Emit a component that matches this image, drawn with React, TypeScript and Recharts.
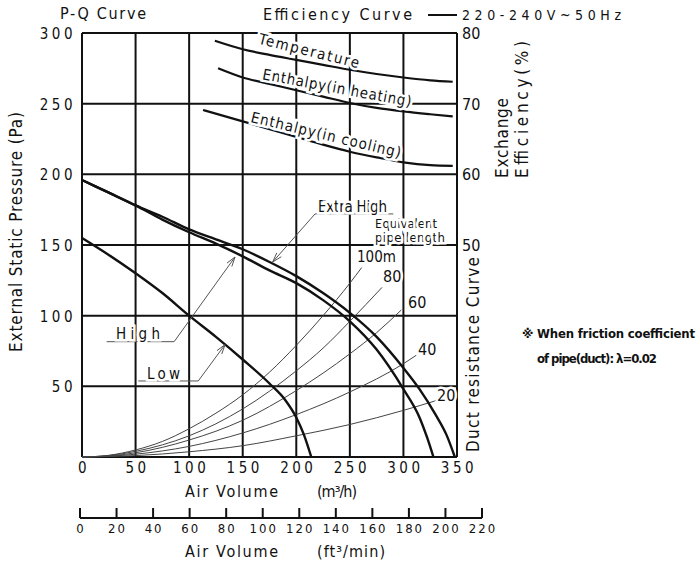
import React from "react";
import {
  LineChart,
  Line,
  XAxis,
  YAxis,
  CartesianGrid,
  ReferenceLine,
} from "recharts";

const FONT =
  "'DejaVu Sans Condensed', 'Liberation Sans Narrow', 'DejaVu Sans', sans-serif";

// axis ticks
const airTicks = [0, 50, 100, 150, 200, 250, 300, 350];
const pressureTicks = [0, 50, 100, 150, 200, 250, 300];
const effTicks = [50, 60, 70, 80];
const ftTicks = [0, 20, 40, 60, 80, 100, 120, 140, 160, 180, 200, 220];

// P-Q curves (q = m3/h, p = Pa)
const extraHigh = [
  { q: 0, p: 196 }, { q: 25, p: 187 }, { q: 50, p: 178 }, { q: 75, p: 170 },
  { q: 100, p: 161 }, { q: 125, p: 154 }, { q: 150, p: 147 }, { q: 175, p: 138 },
  { q: 200, p: 128 }, { q: 225, p: 116 }, { q: 250, p: 102 }, { q: 275, p: 85 },
  { q: 300, p: 63 }, { q: 315, p: 48 }, { q: 330, p: 30 }, { q: 340, p: 16 },
  { q: 348, p: 0 },
];
const high = [
  { q: 0, p: 196 }, { q: 25, p: 187 }, { q: 50, p: 178 }, { q: 75, p: 168 },
  { q: 100, p: 159 }, { q: 125, p: 151 }, { q: 150, p: 142 }, { q: 175, p: 132 },
  { q: 200, p: 123 }, { q: 225, p: 111 }, { q: 250, p: 96 }, { q: 275, p: 76 },
  { q: 300, p: 48 }, { q: 315, p: 28 }, { q: 322, p: 14 }, { q: 328, p: 0 },
];
const low = [
  { q: 0, p: 155 }, { q: 25, p: 143 }, { q: 50, p: 130 }, { q: 75, p: 116 },
  { q: 100, p: 100 }, { q: 125, p: 85 }, { q: 150, p: 69 }, { q: 175, p: 52 },
  { q: 190, p: 40 }, { q: 200, p: 28 }, { q: 207, p: 16 }, { q: 214, p: 0 },
];

// duct resistance curves by equivalent pipe length
const duct100 = [
  { q: 0, p: 0 }, { q: 25, p: 1.2 }, { q: 50, p: 5 }, { q: 75, p: 11 },
  { q: 100, p: 20 }, { q: 125, p: 31 }, { q: 150, p: 44 }, { q: 175, p: 60 },
  { q: 200, p: 79 }, { q: 225, p: 100 }, { q: 250, p: 123 }, { q: 261, p: 134 },
];
const duct80 = [
  { q: 0, p: 0 }, { q: 25, p: 1 }, { q: 50, p: 4 }, { q: 100, p: 15 },
  { q: 150, p: 34 }, { q: 200, p: 61 }, { q: 225, p: 77 }, { q: 250, p: 96 },
  { q: 280, p: 120 },
];
const duct60 = [
  { q: 0, p: 0 }, { q: 25, p: 0.7 }, { q: 50, p: 3 }, { q: 100, p: 12 },
  { q: 150, p: 26 }, { q: 200, p: 47 }, { q: 250, p: 73 }, { q: 275, p: 88 },
  { q: 298, p: 104 },
];
const duct40 = [
  { q: 0, p: 0 }, { q: 25, p: 0.5 }, { q: 50, p: 2 }, { q: 100, p: 7.5 },
  { q: 150, p: 17 }, { q: 200, p: 30 }, { q: 250, p: 46 }, { q: 300, p: 66 },
  { q: 312, p: 72 },
];
const duct20 = [
  { q: 0, p: 0 }, { q: 50, p: 1 }, { q: 100, p: 3.7 }, { q: 150, p: 8 },
  { q: 200, p: 15 }, { q: 250, p: 23 }, { q: 300, p: 33 }, { q: 331, p: 40 },
];

// exchange efficiency curves (e = %)
const temperature = [
  { q: 124, e: 78.9 }, { q: 150, e: 77.7 }, { q: 175, e: 76.9 }, { q: 200, e: 76.2 },
  { q: 225, e: 75.5 }, { q: 250, e: 74.8 }, { q: 275, e: 74.2 }, { q: 300, e: 73.7 },
  { q: 325, e: 73.3 }, { q: 346, e: 73.1 },
];
const enthalpyHeating = [
  { q: 127, e: 75 }, { q: 150, e: 73.7 }, { q: 175, e: 72.8 }, { q: 200, e: 71.9 },
  { q: 225, e: 71 }, { q: 250, e: 70.1 }, { q: 275, e: 69.4 }, { q: 300, e: 68.9 },
  { q: 325, e: 68.5 }, { q: 346, e: 68.2 },
];
const enthalpyCooling = [
  { q: 113, e: 69.1 }, { q: 150, e: 67.5 }, { q: 175, e: 66.4 }, { q: 200, e: 65.3 },
  { q: 225, e: 64.2 }, { q: 250, e: 63.2 }, { q: 275, e: 62.4 }, { q: 300, e: 61.7 },
  { q: 325, e: 61.3 }, { q: 346, e: 61.2 },
];

// leader lines: label underline start, bend point, arrow tip (data units)
const leaders = [
  { from: { q: 217.5, p: 172 }, to: { q: 178, p: 138 }, under: 290.5 },
  { from: { q: 86, p: 81.6 }, to: { q: 142.8, p: 141.5 }, under: 23 },
  { from: { q: 108.5, p: 53.8 }, to: { q: 133.5, p: 79.5 }, under: 52.5 },
];

const ftRows = ftTicks.map((v) => ({ ft: v, y: 0 }));

const txt = { fontFamily: FONT, fill: "#111" } as const;
const halo = { stroke: "#fff", strokeWidth: 5, paintOrder: "stroke" } as const;

const Arrow = (props: any) => {
  const { x1, y1, x2, y2 } = props;
  const a = Math.atan2(y2 - y1, x2 - x1);
  const l = 10;
  const w = 0.3;
  const p1 = [x2 - l * Math.cos(a - w), y2 - l * Math.sin(a - w)];
  const p2 = [x2 - l * Math.cos(a + w), y2 - l * Math.sin(a + w)];
  return (
    <g stroke="#555" strokeWidth={1} fill="none">
      <line x1={x1} y1={y1} x2={x2} y2={y2} />
      <polyline points={`${p1[0]},${p1[1]} ${x2},${y2} ${p2[0]},${p2[1]}`} />
    </g>
  );
};

const AirTick = ({ x, y, payload }: any) => (
  <text x={x + 2} y={y + 16} textAnchor="middle" fontSize={15} letterSpacing={3.5} style={txt}>
    {payload.value}
  </text>
);

const PressureTick = ({ x, y, payload }: any) =>
  payload.value === 0 ? null : (
    <text x={x - 6} y={y + 6} textAnchor="end" fontSize={15} letterSpacing={3.5} style={txt}>
      {payload.value}
    </text>
  );

const EffTick = ({ x, y, payload }: any) => (
  <text x={x + 5} y={y + 6} textAnchor="start" fontSize={16} style={txt}>
    {payload.value}
  </text>
);

const FtTick = ({ x, y, payload }: any) => (
  <g>
    <line x1={x} y1={y} x2={x} y2={y - 10} stroke="#111" strokeWidth={2} />
    <text x={x + 1} y={y + 15} textAnchor="middle" fontSize={13} letterSpacing={2} style={txt}>
      {payload.value}
    </text>
  </g>
);

export default function App() {
  return (
    <div style={{ position: "absolute", left: 0, top: 0, width: 697, height: 568, background: "#fff" }}>
      <div style={{ position: "absolute", left: 0, top: 0 }}>
        <LineChart width={697} height={568} margin={{ top: 33, right: 200, bottom: 81, left: 22 }}>
          <CartesianGrid xAxisId="q" yAxisId="p" stroke="#111" strokeWidth={2} />
          <XAxis
            xAxisId="q"
            dataKey="q"
            type="number"
            domain={[0, 350]}
            ticks={airTicks}
            height={30}
            axisLine={false}
            tickLine={false}
            tickSize={0}
            tickMargin={0}
            tick={<AirTick />}
            interval={0}
          />
          <YAxis
            yAxisId="p"
            type="number"
            domain={[0, 300]}
            ticks={pressureTicks}
            width={60}
            axisLine={false}
            tickLine={false}
            tickSize={0}
            tickMargin={0}
            tick={<PressureTick />}
            interval={0}
          />
          <YAxis
            yAxisId="e"
            orientation="right"
            type="number"
            domain={[20, 80]}
            ticks={effTicks}
            width={40}
            axisLine={false}
            tickLine={false}
            tickSize={0}
            tickMargin={0}
            tick={<EffTick />}
            interval={0}
          />

          {[duct100, duct80, duct60, duct40, duct20].map((d, i) => (
            <Line
              key={"duct" + i}
              xAxisId="q"
              yAxisId="p"
              data={d}
              dataKey="p"
              type="monotone"
              stroke="#444"
              strokeWidth={1}
              dot={false}
              isAnimationActive={false}
            />
          ))}

          <Line xAxisId="q" yAxisId="p" data={extraHigh} dataKey="p" type="monotone" stroke="#111" strokeWidth={2.4} dot={false} isAnimationActive={false} />
          <Line xAxisId="q" yAxisId="p" data={high} dataKey="p" type="monotone" stroke="#111" strokeWidth={2.4} dot={false} isAnimationActive={false} />
          <Line xAxisId="q" yAxisId="p" data={low} dataKey="p" type="monotone" stroke="#111" strokeWidth={2.4} dot={false} isAnimationActive={false} />

          <Line xAxisId="q" yAxisId="e" data={temperature} dataKey="e" type="monotone" stroke="#111" strokeWidth={2.2} dot={false} isAnimationActive={false} />
          <Line xAxisId="q" yAxisId="e" data={enthalpyHeating} dataKey="e" type="monotone" stroke="#111" strokeWidth={2.2} dot={false} isAnimationActive={false} />
          <Line xAxisId="q" yAxisId="e" data={enthalpyCooling} dataKey="e" type="monotone" stroke="#111" strokeWidth={2.2} dot={false} isAnimationActive={false} />

          {leaders.map((l, i) => (
            <ReferenceLine
              key={"u" + i}
              xAxisId="q"
              yAxisId="p"
              segment={[{ x: l.under, y: l.from.p }, { x: l.from.q, y: l.from.p }]}
              stroke="#555"
              strokeWidth={1}
            />
          ))}
          {leaders.map((l, i) => (
            <ReferenceLine
              key={"a" + i}
              xAxisId="q"
              yAxisId="p"
              segment={[{ x: l.from.q, y: l.from.p }, { x: l.to.q, y: l.to.p }]}
              shape={Arrow}
            />
          ))}
        </LineChart>
      </div>

      {/* second air-volume scale in ft3/min */}
      <div style={{ position: "absolute", left: 0, top: 0 }}>
        <LineChart width={697} height={568} data={ftRows} margin={{ top: 0, right: 215, bottom: 0, left: 80 }}>
          <XAxis
            dataKey="ft"
            type="number"
            domain={[0, 220]}
            ticks={ftTicks}
            height={50}
            axisLine={{ stroke: "#111", strokeWidth: 2 }}
            tickLine={false}
            tickSize={0}
            tickMargin={0}
            tick={<FtTick />}
            interval={0}
          />
          <YAxis hide domain={[0, 1]} />
          <Line dataKey="y" stroke="none" dot={false} isAnimationActive={false} />
        </LineChart>
      </div>

      {/* titles and notes */}
      <svg width={697} height={568} style={{ position: "absolute", left: 0, top: 0 }}>
        <g style={txt}>
          <text x={60} y={19} fontSize={16} textLength={86}>P-Q Curve</text>
          <text x={263} y={20} fontSize={16} textLength={149}>Efficiency Curve</text>
          <line x1={428} y1={15} x2={457} y2={15} stroke="#111" strokeWidth={2} />
          <text x={462} y={20} fontSize={14} textLength={159}>220-240V~50Hz</text>

          <text transform="translate(22,232) rotate(-90)" textAnchor="middle" fontSize={17} textLength={240}>
            External Static Pressure (Pa)
          </text>
          <text transform="translate(508,178) rotate(-90)" fontSize={17} textLength={80}>Exchange</text>
          <text transform="translate(528,178) rotate(-90)" fontSize={17} textLength={137}>Efficiency(%)</text>
          <text transform="translate(479,452) rotate(-90)" fontSize={17} textLength={195}>Duct resistance Curve</text>

          <text x={522} y={338} fontSize={13} fontWeight="bold" textLength={173}>※ When friction coefficient</text>
          <text x={537} y={363} fontSize={13} fontWeight="bold" textLength={120}>of pipe(duct): λ=0.02</text>

          <text x={185} y={497} fontSize={16} textLength={93}>Air Volume</text>
          <text x={317} y={497} fontSize={16} textLength={40}>(m³/h)</text>
          <text x={185} y={557} fontSize={16} textLength={93}>Air Volume</text>
          <text x={317} y={557} fontSize={16} textLength={68}>(ft³/min)</text>

          <text transform="translate(309,51) rotate(14)" textAnchor="middle" dominantBaseline="central" fontSize={15} textLength={103} style={halo}>Temperature</text>
          <text transform="translate(337,88) rotate(10.5)" textAnchor="middle" dominantBaseline="central" fontSize={15} textLength={151} style={halo}>Enthalpy(in heating)</text>
          <text transform="translate(326,135) rotate(13.5)" textAnchor="middle" dominantBaseline="central" fontSize={15} textLength={154} style={halo}>Enthalpy(in cooling)</text>

          <text x={318} y={212} fontSize={15} textLength={69} style={halo}>Extra High</text>
          <text x={375} y={228} fontSize={13} textLength={62} style={halo}>Equivalent</text>
          <text x={375} y={242} fontSize={13} textLength={70} style={halo}>pipe length</text>
          <text x={357} y={262} fontSize={15} style={halo}>100m</text>
          <text x={383} y={282} fontSize={16} style={halo}>80</text>
          <text x={408} y={308} fontSize={16} style={halo}>60</text>
          <text x={418} y={355} fontSize={16} style={halo}>40</text>
          <text x={437} y={401} fontSize={16} style={halo}>20</text>
          <text x={116} y={339} fontSize={15} textLength={44} style={halo}>High</text>
          <text x={147} y={379} fontSize={15} textLength={33} style={halo}>Low</text>
        </g>
      </svg>
    </div>
  );
}
